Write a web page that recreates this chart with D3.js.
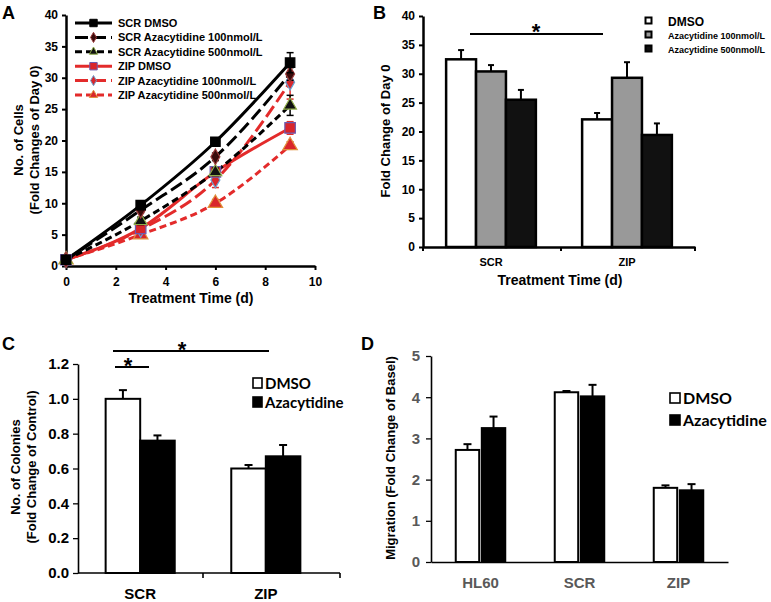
<!DOCTYPE html>
<html><head><meta charset="utf-8">
<script src="https://cdn.jsdelivr.net/npm/d3@7"></script>
<style>
body{margin:0;background:#fff;}
svg{display:block;}
text{font-family:"Liberation Sans",Arial,sans-serif;font-weight:bold;}
.cal{font-family:Lato,"Open Sans",sans-serif;font-weight:bold;}
</style></head>
<body>
<svg id="c" width="771" height="602"></svg>
<script>
// ---------- Panel A data ----------
const daysA = [0, 3, 6, 9];
const seriesA = ["SCR DMSO","SCR Azacytidine 100nmol/L","SCR Azacytidine 500nmol/L","ZIP DMSO","ZIP Azacytidine 100nmol/L","ZIP Azacytidine 500nmol/L"];
const scrDMSO   = [1, 9.7, 19.8, 32.4];
const scrAza100 = [1, 8.9, 17.4, 30.6];
const scrAza500 = [1, 7.2, 15.0, 25.6];
const zipDMSO   = [1, 6.0, 15.0, 22.0];
const zipAza100 = [1, 5.8, 13.7, 29.3];
const zipAza500 = [1, 5.0, 10.0, 19.2];
const errA = [[0,0.4,0.4,1.6],[0,0.4,0.6,1.0],[0,0.6,0.6,1.6],[0,0.5,0.8,1.0],[0,0.6,1.2,2.7],[0,0.5,0.6,0.6]];
const xTicksA = [0,2,4,6,8,10];
const yTicksA = [0,5,10,15,20,25,30,35,40];

// ---------- Panel B data ----------
const groupsB = ["SCR","ZIP"];
const seriesB = ["DMSO","Azacytidine 100nmol/L","Azacytidine 500nmol/L"];
const valsB = {SCR:[32.5,30.4,25.5], ZIP:[22.1,29.3,19.4]};
const errB  = {SCR:[1.6,1.1,1.7], ZIP:[1.1,2.7,2.0]};
const yTicksB = [0,5,10,15,20,25,30,35,40];

// ---------- Panel C data ----------
const groupsC = ["SCR","ZIP"];
const seriesC = ["DMSO","Azacytidine"];
const valsC = {SCR:[1.0,0.76], ZIP:[0.60,0.67]};
const errC  = {SCR:[0.05,0.03], ZIP:[0.02,0.065]};
const yTicksC = [0,0.2,0.4,0.6,0.8,1.0,1.2];

// ---------- Panel D data ----------
const groupsD = ["HL60","SCR","ZIP"];
const seriesD = ["DMSO","Azacytidine"];
const valsD = {HL60:[2.72,3.25], SCR:[4.12,4.02], ZIP:[1.80,1.74]};
const errD  = {HL60:[0.14,0.28], SCR:[0.03,0.28], ZIP:[0.06,0.15]};
const yTicksD = [0,1,2,3,4,5];

const svg = d3.select("#c");
const RED = "#e32b2b";

function styleAxis(g, w, fs, color, cls){
  g.select(".domain").attr("stroke","#000").attr("stroke-width",w);
  g.selectAll(".tick line").attr("stroke","#000").attr("stroke-width",w*0.8);
  g.selectAll(".tick text").attr("font-size",fs).attr("fill",color||"#000")
    .attr("font-family", cls ? "Lato, 'Open Sans', sans-serif" : "'Liberation Sans', Arial, sans-serif")
    .attr("font-weight","bold");
}

// ================= Panel A =================
(function(){
  const x = d3.scaleLinear().domain([0,10]).range([66,315]);
  const y = d3.scaleLinear().domain([0,40]).range([266,15]);
  const g = svg.append("g");
  g.append("text").attr("x",2).attr("y",19).attr("font-size",18).text("A");
  const ya = g.append("g").attr("transform","translate(66,0)").call(d3.axisLeft(y).tickValues(yTicksA).tickFormat(d3.format("d")).tickSize(4).tickSizeOuter(0));
  styleAxis(ya,2.5,12);
  ya.selectAll(".tick text").attr("x",-8);
  const xa = g.append("g").attr("transform","translate(0,266)").call(d3.axisBottom(x).tickValues(xTicksA).tickFormat(d3.format("d")).tickSize(4).tickSizeOuter(0));
  styleAxis(xa,2.5,12);
  xa.selectAll(".tick text").attr("dy","1.05em");
  g.append("text").attr("x",191).attr("y",303).attr("text-anchor","middle").attr("font-size",14).text("Treatment Time (d)");
  const yl = g.append("text").attr("transform","translate(0,140) rotate(-90)").attr("text-anchor","middle").attr("font-size",13);
  yl.append("tspan").attr("x",0).attr("y",23).text("No. of Cells");
  yl.append("tspan").attr("x",0).attr("y",39).text("(Fold Changes of Day 0)");

  const data = [scrDMSO,scrAza100,scrAza500,zipDMSO,zipAza100,zipAza500];
  const lineCol = ["#000","#000","#000",RED,RED,RED];
  const dash = [null,"13,5","7,4",null,"13,5","7,4"];
  const lw = [3,3,3,3,3,3];
  const mk = [
    {t:d3.symbolSquare, s:90, f:"#000", st:"#000"},
    {t:d3.symbolDiamond, s:70, f:"#3a0c0c", st:"#9b3a3a"},
    {t:d3.symbolTriangle, s:70, f:"#111", st:"#8fae4a"},
    {t:d3.symbolSquare, s:110, f:"#d9262b", st:"#6c5bb0"},
    {t:d3.symbolDiamond, s:70, f:"#d9262b", st:"#6aa0d0"},
    {t:d3.symbolTriangle, s:90, f:"#d9262b", st:"#e0903a"}
  ];
  const line = d3.line().x((d,i)=>x(daysA[i])).y(d=>y(d)).curve(d3.curveMonotoneX);
  const order = [5,4,3,2,1,0];
  order.forEach(k=>{
    g.append("path").datum(data[k]).attr("d",line).attr("fill","none")
      .attr("stroke",lineCol[k]).attr("stroke-width",lw[k]).attr("stroke-dasharray",dash[k]);
  });
  order.forEach(k=>{
    data[k].forEach((v,i)=>{
      const e = errA[k][i];
      if(e>0){
        const cx = x(daysA[i]);
        g.append("line").attr("x1",cx).attr("x2",cx).attr("y1",y(v-e)).attr("y2",y(v+e)).attr("stroke",lineCol[k]).attr("stroke-width",1.5);
        g.append("line").attr("x1",cx-3.5).attr("x2",cx+3.5).attr("y1",y(v+e)).attr("y2",y(v+e)).attr("stroke",lineCol[k]).attr("stroke-width",1.5);
        g.append("line").attr("x1",cx-3.5).attr("x2",cx+3.5).attr("y1",y(v-e)).attr("y2",y(v-e)).attr("stroke",lineCol[k]).attr("stroke-width",1.5);
      }
      g.append("path").attr("d",d3.symbol().type(mk[k].t).size(mk[k].s)())
        .attr("transform",`translate(${x(daysA[i])},${y(v)})`)
        .attr("fill",mk[k].f).attr("stroke",mk[k].st).attr("stroke-width",1.2);
    });
  });
  // legend
  const lg = g.append("g");
  seriesA.forEach((s,k)=>{
    const yy = 23 + k*14.4;
    lg.append("line").attr("x1",75).attr("x2",112).attr("y1",yy).attr("y2",yy)
      .attr("stroke",lineCol[k]).attr("stroke-width",3).attr("stroke-dasharray",dash[k]);
    lg.append("path").attr("d",d3.symbol().type(mk[k].t).size(k===0||k===3?55:30)())
      .attr("transform",`translate(93.5,${yy})`).attr("fill",mk[k].f).attr("stroke",mk[k].st).attr("stroke-width",1);
    lg.append("text").attr("x",118).attr("y",yy+4).attr("font-size",11).text(s);
  });
})();

// ================= Panel B =================
(function(){
  const x = d3.scaleBand().domain(groupsB).range([423,695]).paddingInner(0.34).paddingOuter(0.17);
  const xs = d3.scaleBand().domain(seriesB).range([0,x.bandwidth()]);
  const y = d3.scaleLinear().domain([0,40]).range([247,16]);
  const g = svg.append("g");
  g.append("text").attr("x",373).attr("y",19).attr("font-size",18).text("B");
  const ya = g.append("g").attr("transform","translate(423,0)").call(d3.axisLeft(y).tickValues(yTicksB).tickFormat(d3.format("d")).tickSize(4).tickSizeOuter(0));
  styleAxis(ya,2.5,12);
  ya.selectAll(".tick text").attr("x",-8);
  const xa = g.append("g").attr("transform","translate(0,247)").call(d3.axisBottom(x).tickSize(0).tickSizeOuter(0));
  styleAxis(xa,2.5,11);
  xa.selectAll(".tick text").attr("dy","1.45em");
  [423,561,695].forEach(t=>g.append("line").attr("x1",t).attr("x2",t).attr("y1",247).attr("y2",251).attr("stroke","#000").attr("stroke-width",2));
  g.append("text").attr("x",560).attr("y",285).attr("text-anchor","middle").attr("font-size",14).text("Treatment Time (d)");
  g.append("text").attr("transform","translate(390,131) rotate(-90)").attr("text-anchor","middle").attr("font-size",13).text("Fold Change of Day 0");
  const fills = ["#fff","#999","#111"];
  groupsB.forEach(gr=>{
    seriesB.forEach((s,i)=>{
      const v = valsB[gr][i], e = errB[gr][i];
      const bx = x(gr)+xs(s), cx = bx + xs.bandwidth()/2;
      g.append("line").attr("x1",cx).attr("x2",cx).attr("y1",y(v)).attr("y2",y(v+e)).attr("stroke","#000").attr("stroke-width",2);
      g.append("line").attr("x1",cx-3).attr("x2",cx+3).attr("y1",y(v+e)).attr("y2",y(v+e)).attr("stroke","#000").attr("stroke-width",2);
      g.append("rect").attr("x",bx).attr("y",y(v)).attr("width",xs.bandwidth()).attr("height",y(0)-y(v))
        .attr("fill",fills[i]).attr("stroke","#000").attr("stroke-width",2.5);
    });
  });
  g.append("line").attr("x1",470).attr("x2",603).attr("y1",34).attr("y2",34).attr("stroke","#000").attr("stroke-width",2);
  g.append("text").attr("x",536).attr("y",39).attr("text-anchor","middle").attr("font-size",22).attr("font-weight","normal").text("*");
  seriesB.forEach((s,i)=>{
    const yy = 21 + i*14;
    g.append("rect").attr("x",645.5).attr("y",yy-3.5).attr("width",6).attr("height",6).attr("fill",fills[i]).attr("stroke","#000").attr("stroke-width",2);
    g.append("text").attr("x",668).attr("y",yy+(i===0?5:3.5)).attr("font-size",i===0?12:9).text(s);
  });
})();

// ================= Panel C =================
(function(){
  const x = d3.scaleBand().domain(groupsC).range([78,328]).paddingInner(0.45).paddingOuter(0.22);
  const xs = d3.scaleBand().domain(seriesC).range([0,x.bandwidth()]);
  const y = d3.scaleLinear().domain([0,1.2]).range([573,364]);
  const g = svg.append("g");
  g.append("text").attr("x",2).attr("y",350).attr("font-size",18).text("C");
  const ya = g.append("g").attr("transform","translate(78,0)").call(d3.axisLeft(y).tickValues(yTicksC).tickFormat(d3.format(".1f")).tickSize(5).tickSizeOuter(0));
  styleAxis(ya,1.6,15,"#000",true);
  ya.selectAll(".tick text").attr("x",-9);
  g.append("line").attr("x1",78).attr("x2",340).attr("y1",573).attr("y2",573).attr("stroke","#000").attr("stroke-width",1.6);
  const xa = g.append("g").attr("transform","translate(0,573)").call(d3.axisBottom(x).tickSize(0).tickSizeOuter(0));
  xa.select(".domain").remove();
  styleAxis(xa,1.6,15,"#000",true);
  xa.selectAll(".tick text").attr("dy","1.55em");
  [203,340].forEach(t=>g.append("line").attr("x1",t).attr("x2",t).attr("y1",573).attr("y2",578).attr("stroke","#000").attr("stroke-width",1.6));
  const yl = g.append("text").attr("transform","translate(0,467) rotate(-90)").attr("text-anchor","middle").attr("font-size",13);
  yl.append("tspan").attr("x",0).attr("y",20).text("No. of Colonies");
  yl.append("tspan").attr("x",0).attr("y",36).text("(Fold Change of Control)");
  const fills = ["#fff","#000"];
  groupsC.forEach(gr=>{
    seriesC.forEach((s,i)=>{
      const v = valsC[gr][i], e = errC[gr][i];
      const bx = x(gr)+xs(s), cx = bx + xs.bandwidth()/2;
      g.append("line").attr("x1",cx).attr("x2",cx).attr("y1",y(v)).attr("y2",y(v+e)).attr("stroke","#000").attr("stroke-width",2);
      g.append("line").attr("x1",cx-4).attr("x2",cx+4).attr("y1",y(v+e)).attr("y2",y(v+e)).attr("stroke","#000").attr("stroke-width",2);
      g.append("rect").attr("x",bx).attr("y",y(v)).attr("width",xs.bandwidth()).attr("height",y(0)-y(v))
        .attr("fill",fills[i]).attr("stroke","#000").attr("stroke-width",2);
    });
  });
  g.append("line").attr("x1",113).attr("x2",269).attr("y1",351).attr("y2",351).attr("stroke","#000").attr("stroke-width",2);
  g.append("text").attr("x",182).attr("y",357).attr("text-anchor","middle").attr("font-size",22).attr("font-weight","normal").text("*");
  g.append("line").attr("x1",115).attr("x2",149).attr("y1",367).attr("y2",367).attr("stroke","#000").attr("stroke-width",2);
  g.append("text").attr("x",128).attr("y",373).attr("text-anchor","middle").attr("font-size",22).attr("font-weight","normal").text("*");
  seriesC.forEach((s,i)=>{
    const yy = 383 + i*19;
    g.append("rect").attr("x",253).attr("y",yy-5).attr("width",9).attr("height",10).attr("fill",fills[i]).attr("stroke","#000").attr("stroke-width",1.6);
    g.append("text").attr("class","cal").attr("x",265).attr("y",yy+5.5).attr("font-size",15).text(s);
  });
})();

// ================= Panel D =================
(function(){
  const x = d3.scaleBand().domain(groupsD).range([431,728]).paddingInner(0.5).paddingOuter(0.25);
  const xs = d3.scaleBand().domain(seriesD).range([0,x.bandwidth()]).paddingInner(0.1);
  const y = d3.scaleLinear().domain([0,5]).range([562,356]);
  const g = svg.append("g");
  g.append("text").attr("x",361).attr("y",350).attr("font-size",18).text("D");
  const ya = g.append("g").attr("transform","translate(431,0)").call(d3.axisLeft(y).tickValues(yTicksD).tickFormat(d3.format("d")).tickSize(5).tickSizeOuter(0));
  styleAxis(ya,1.6,15,"#595959",true);
  ya.selectAll(".tick text").attr("x",-11);
  const xa = g.append("g").attr("transform","translate(0,562)").call(d3.axisBottom(x).tickSize(0).tickSizeOuter(0));
  styleAxis(xa,1.6,15,"#595959",true);
  xa.selectAll(".tick text").attr("dy","1.5em");
  g.append("text").attr("transform","translate(395,458) rotate(-90)").attr("text-anchor","middle").attr("font-size",13).text("Migration (Fold Change of Basel)");
  const fills = ["#fff","#000"];
  groupsD.forEach(gr=>{
    seriesD.forEach((s,i)=>{
      const v = valsD[gr][i], e = errD[gr][i];
      const bx = x(gr)+xs(s), cx = bx + xs.bandwidth()/2;
      g.append("line").attr("x1",cx).attr("x2",cx).attr("y1",y(v)).attr("y2",y(v+e)).attr("stroke","#000").attr("stroke-width",2);
      g.append("line").attr("x1",cx-4).attr("x2",cx+4).attr("y1",y(v+e)).attr("y2",y(v+e)).attr("stroke","#000").attr("stroke-width",2);
      g.append("rect").attr("x",bx).attr("y",y(v)).attr("width",xs.bandwidth()).attr("height",y(0)-y(v))
        .attr("fill",fills[i]).attr("stroke","#000").attr("stroke-width",2);
    });
  });
  seriesD.forEach((s,i)=>{
    const yy = 398 + i*22;
    g.append("rect").attr("x",670).attr("y",yy-5).attr("width",10).attr("height",10).attr("fill",fills[i]).attr("stroke","#000").attr("stroke-width",1.6);
    g.append("text").attr("class","cal").attr("x",683).attr("y",yy+6).attr("font-size",16).text(s);
  });
})();
</script>
</body></html>
